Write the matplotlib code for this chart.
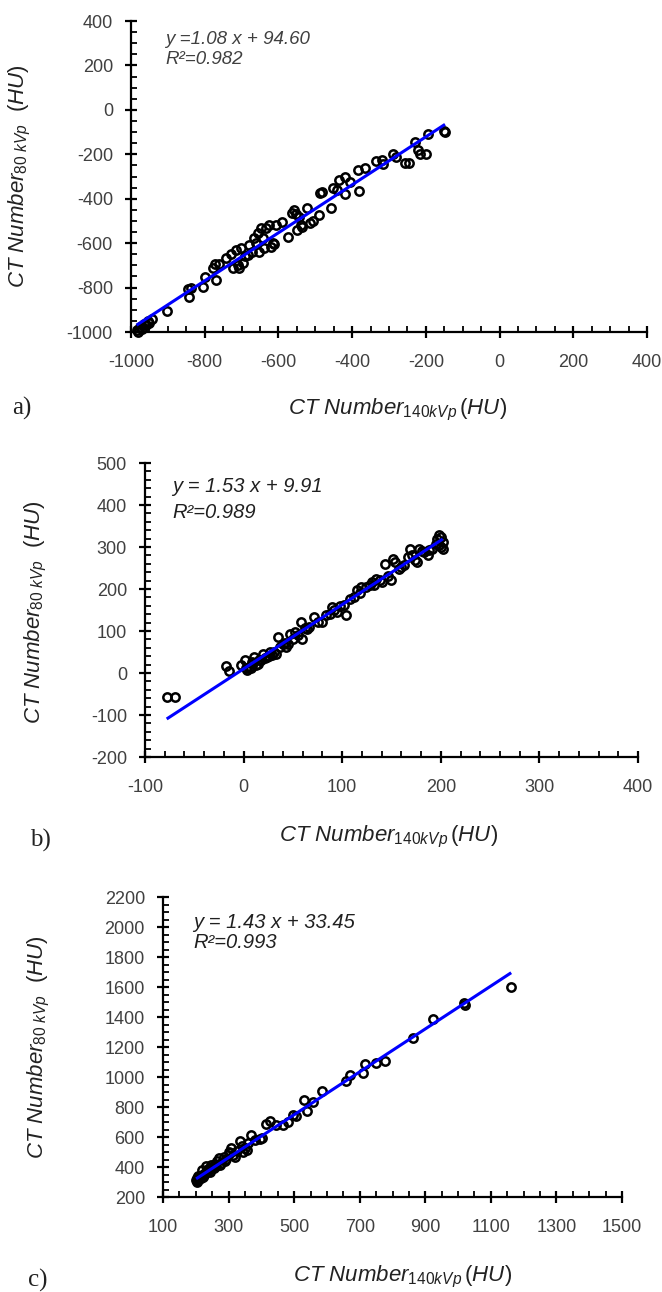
import matplotlib
matplotlib.use('Agg')
import matplotlib.pyplot as plt
from matplotlib.ticker import MultipleLocator

plt.rcParams['font.family'] = ['Liberation Sans', 'DejaVu Sans']
plt.rcParams['mathtext.fontset'] = 'custom'
plt.rcParams['mathtext.it'] = 'Liberation Sans:italic'
plt.rcParams['mathtext.rm'] = 'Liberation Sans'
plt.rcParams['axes.unicode_minus'] = False

# ---- data ----
# a) lung / low density
xa = [-985, -980, -975, -970, -966, -960, -955, -950, -943, -903,
      -845, -842, -836, -804, -800, -778, -773, -770, -760, -743,
      -728, -724, -715, -710, -706, -701, -695, -690, -683, -679,
      -672, -665, -660, -656, -652, -647, -643, -638, -634, -625,
      -621, -615, -612, -607, -589, -574, -562, -558, -553, -549,
      -544, -540, -535, -522, -513, -505, -490, -486, -482, -458,
      -453, -440, -435, -419, -419, -405, -383, -381, -365, -334,
      -320, -316, -289, -280, -257, -245, -230, -222, -215, -200,
      -195, -150, -148]
ya = [-993, -1000, -978, -985, -962, -970, -952, -958, -943, -907,
      -808, -842, -802, -797, -752, -714, -696, -767, -692, -669,
      -647, -714, -632, -700, -714, -624, -690, -660, -654, -609,
      -640, -579, -600, -556, -639, -534, -579, -624, -534, -519,
      -617, -600, -602, -519, -504, -572, -466, -451, -470, -541,
      -481, -520, -526, -444, -511, -500, -474, -376, -370, -444,
      -353, -361, -316, -301, -381, -323, -271, -365, -263, -229,
      -226, -245, -200, -211, -238, -240, -145, -180, -200, -200,
      -110, -95, -100]

# b) soft tissue
xb = [-78, -70, -18, -15, -3, 1, 3, 5, 7, 9,
      11, 13, 15, 18, 20, 22, 24, 27, 31, 33,
      35, 37, 40, 43, 45, 47, 50, 52, 55, 58,
      59, 62, 66, 71, 75, 80, 84, 88, 90, 95,
      98, 102, 104, 108, 112, 115, 119, 124, 128, 130,
      134, 138, 140, 143, 149, 152, 154, 158, 163, 167,
      169, 171, 174, 176, 178, 183, 187, 191, 195, 198,
      200, 202, 202, 198, 200, 2, 10, 16, 26, 29,
      42, 64, 92, 118, 132, 146, 160, 181, 188, 196]
yb = [-57, -57, 16, 5, 18, 30, 6, 12, 13, 26,
      38, 20, 22, 30, 46, 35, 38, 50, 50, 45,
      86, 62, 68, 62, 70, 94, 80, 98, 90, 122,
      82, 106, 110, 133, 121, 121, 137, 140, 157, 145,
      160, 161, 137, 177, 180, 197, 205, 205, 210, 217,
      225, 222, 217, 260, 221, 272, 264, 248, 256, 276,
      296, 280, 270, 264, 296, 288, 280, 296, 308, 328,
      324, 312, 296, 304, 300, 12, 24, 32, 40, 42,
      72, 104, 150, 190, 210, 232, 252, 290, 292, 318]

# c) bone
xc = [201, 203, 205, 207, 210, 213, 216, 220, 225, 230,
      233, 238, 246, 250, 258, 265, 271, 278, 285, 292,
      300, 303, 307, 315, 325, 336, 340, 349, 360, 368,
      380, 395, 403, 413, 426, 446, 465, 480, 497, 505,
      530, 540, 556, 584, 659, 669, 710, 717, 749, 777,
      862, 923, 1017, 1020, 1162, 204, 208, 212, 218, 222,
      228, 236, 242, 255, 262, 275, 290, 320, 345, 355]
yc = [316, 305, 325, 338, 320, 340, 330, 382, 350, 404,
      370, 390, 416, 400, 420, 440, 460, 430, 470, 455,
      500, 493, 527, 480, 510, 576, 540, 527, 560, 611,
      580, 585, 593, 687, 704, 682, 682, 700, 749, 740,
      849, 776, 833, 904, 971, 1016, 1027, 1089, 1093, 1104,
      1260, 1389, 1493, 1480, 1600, 300, 312, 330, 345, 335,
      358, 375, 365, 395, 405, 415, 440, 470, 500, 515]

slopes = [1.08, 1.53, 1.43]
intercepts = [94.60, 9.91, 33.45]
r2 = ['0.982', '0.989', '0.993']
eq_text = ['y =1.08 x + 94.60', 'y = 1.53 x + 9.91', 'y = 1.43 x + 33.45']
letters = ['a)', 'b)', 'c)']

W, H = 662, 1292
fig = plt.figure(figsize=(W / 100, H / 100), dpi=100)


def box(l, t, r, b):
    return [l / W, 1 - b / H, (r - l) / W, (b - t) / H]


def fx(x):
    return x / W


def fy(y):
    return 1 - y / H


panels = [
    dict(x=xa, y=ya, rect=box(131, 21, 647, 332), xlim=(-1000, 400), ylim=(-1000, 400),
         xmaj=200, xoff=0, xmin=50, ymaj=200, ymin=50, ylab_xy=(20, 176),
         eq_xy=(165, 40), r2_xy=(165, 59), eq_fs=13.5, eq_w='normal', eq_c='#404040',
         xl_xy=(398, 410), let_xy=(22, 408)),
    dict(x=xb, y=yb, rect=box(145, 463, 638, 757), xlim=(-100, 400), ylim=(-200, 500),
         xmaj=100, xoff=0, xmin=20, ymaj=100, ymin=20, ylab_xy=(36, 612),
         eq_xy=(172, 487), r2_xy=(172, 512), eq_fs=14.5, eq_w='medium', eq_c='#202020',
         xl_xy=(389, 837), let_xy=(40, 840)),
    dict(x=xc, y=yc, rect=box(163, 897, 622, 1197), xlim=(100, 1500), ylim=(200, 2200),
         xmaj=200, xoff=100, xmin=50, ymaj=200, ymin=50, ylab_xy=(39, 1047),
         eq_xy=(193, 922), r2_xy=(193, 943), eq_fs=14.5, eq_w='medium', eq_c='#202020',
         xl_xy=(403, 1277), let_xy=(38, 1280)),
]

for i, p in enumerate(panels):
    ax = fig.add_axes(p['rect'])
    ax.plot(p['x'], p['y'], 'o', ms=6, mfc='none', mec='black', mew=1.8, clip_on=False, zorder=3)
    lx = [min(p['x']), max(p['x'])]
    ly = [slopes[i] * v + intercepts[i] for v in lx]
    ax.plot(lx, ly, color='#0000ff', lw=2.2, zorder=4, solid_capstyle='butt')
    ax.set_xlim(*p['xlim'])
    ax.set_ylim(*p['ylim'])
    ax.xaxis.set_major_locator(MultipleLocator(p['xmaj'], offset=p['xoff']))
    ax.xaxis.set_minor_locator(MultipleLocator(p['xmin']))
    ax.yaxis.set_major_locator(MultipleLocator(p['ymaj']))
    ax.yaxis.set_minor_locator(MultipleLocator(p['ymin']))
    for s in ['top', 'right']:
        ax.spines[s].set_visible(False)
    for s in ['left', 'bottom']:
        ax.spines[s].set_linewidth(1.6)
    ax.tick_params(which='major', direction='inout', length=8, width=1.6, labelsize=13,
                   labelcolor='#404040')
    ax.tick_params(axis='x', which='major', pad=12)
    ax.tick_params(axis='y', which='major', pad=9)
    ax.tick_params(which='minor', direction='in', length=4, width=1.3)

    fig.text(fx(p['ylab_xy'][0]), fy(p['ylab_xy'][1]), r'$CT\ Number_{\mathit{80\ kVp}}\ \ (HU)$',
             fontsize=16, color='#222222', rotation=90, ha='center', va='center')
    fig.text(fx(p['eq_xy'][0]), fy(p['eq_xy'][1]), eq_text[i], fontsize=p['eq_fs'], fontstyle='italic',
             fontweight=p['eq_w'], color=p['eq_c'], va='center', ha='left')
    fig.text(fx(p['r2_xy'][0]), fy(p['r2_xy'][1]), 'R\u00b2=' + r2[i], fontsize=p['eq_fs'], fontstyle='italic',
             fontweight=p['eq_w'], color=p['eq_c'], va='center', ha='left')
    fig.text(fx(p['xl_xy'][0]), fy(p['xl_xy'][1]), r'$CT\ Number_{\mathit{140kVp}}\,(HU)$',
             fontsize=16, color='#222222', ha='center', va='center')
    fig.text(fx(p['let_xy'][0]), fy(p['let_xy'][1]), letters[i], fontsize=18,
             family='Liberation Serif', color='#222222', ha='center', va='center')

fig.savefig('out.png', dpi=100)
